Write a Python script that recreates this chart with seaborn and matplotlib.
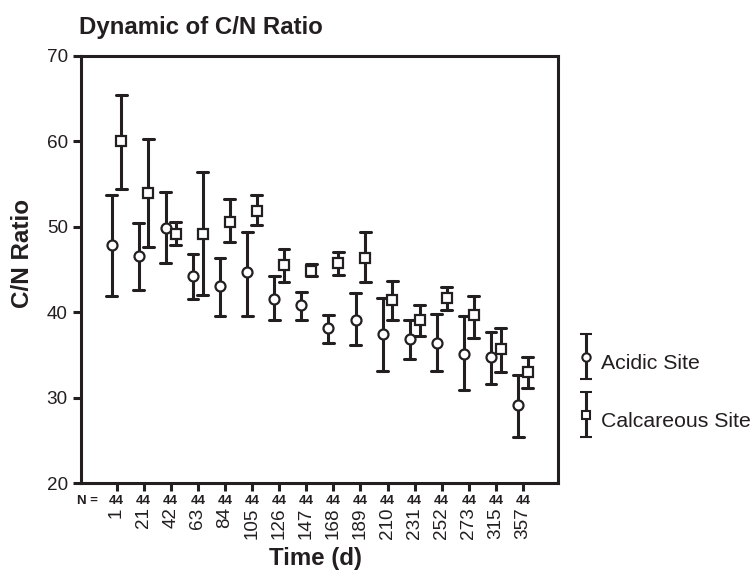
import numpy as np
import pandas as pd
import seaborn as sns
import matplotlib.pyplot as plt
from matplotlib.container import ErrorbarContainer
from matplotlib.legend_handler import HandlerErrorbar

# values (centre and error bar ends)
days = ["1", "21", "42", "63", "84", "105", "126", "147",
        "168", "189", "210", "231", "252", "273", "315", "357"]
n_counts = ["44"] * 16

acidic_mean = [47.9, 46.6, 49.9, 44.2, 43.1, 44.7, 41.6, 40.8,
               38.2, 39.1, 37.4, 36.9, 36.4, 35.1, 34.7, 29.1]
acidic_low = [41.9, 42.6, 45.8, 41.6, 39.6, 39.6, 39.1, 39.1,
              36.4, 36.2, 33.1, 34.5, 33.1, 30.9, 31.6, 25.4]
acidic_high = [53.7, 50.5, 54.1, 46.8, 46.3, 49.4, 44.2, 42.4,
               39.7, 42.2, 41.7, 39.1, 39.8, 39.5, 37.7, 32.7]

calc_mean = [60.1, 53.9, 49.2, 49.2, 50.6, 51.9, 45.5, 44.8,
             45.8, 46.4, 41.4, 39.1, 41.7, 39.7, 35.7, 33.0]
calc_low = [54.4, 47.6, 47.9, 42.0, 48.2, 50.2, 43.5, 44.2,
            44.4, 43.5, 39.1, 37.2, 40.2, 37.0, 33.0, 31.1]
calc_high = [65.4, 60.3, 50.6, 56.4, 53.2, 53.7, 47.4, 45.6,
             47.1, 49.4, 43.7, 40.8, 43.0, 41.9, 38.2, 34.8]

sites = ["Acidic Site", "Calcareous Site"]

# long table: low / centre / high per point, so median = centre and
# the 0-100 percentile interval = the bar ends
rows = []
for site, lo, mid, hi in [(sites[0], acidic_low, acidic_mean, acidic_high),
                          (sites[1], calc_low, calc_mean, calc_high)]:
    for d, a, b, c in zip(days, lo, mid, hi):
        for v in (a, b, c):
            rows.append({"day": d, "site": site, "ratio": v})
df = pd.DataFrame(rows)

ink = "#231f20"
sns.set_theme(style="ticks")
plt.rcParams['font.family'] = ['Liberation Sans', 'DejaVu Sans']

fig = plt.figure(figsize=(7.55, 5.71), dpi=100)
ax = fig.add_axes([81/755, 1-483/571, 477/755, 427/571])

sns.pointplot(data=df, x="day", y="ratio", hue="site", order=days,
              hue_order=sites, estimator="median", errorbar=("pi", 100),
              dodge=0.36, linestyle="none", markers=["o", "s"],
              palette=[ink, ink], capsize=0.4,
              err_kws={"linewidth": 2.2, "zorder": 2, "color": ink},
              markersize=7.2, markerfacecolor="white", markeredgecolor=ink,
              markeredgewidth=1.6, zorder=4, legend=False, ax=ax)

ax.set_xlim(-1.31, 16.29)
ax.set_ylim(20, 70)
ax.set_yticks([20, 30, 40, 50, 60, 70])
ax.set_xlabel("")
ax.set_ylabel("")

for s in ax.spines.values():
    s.set_visible(True)
    s.set_linewidth(2.2)
    s.set_color(ink)
ax.tick_params(axis="both", width=2.2, length=6, color=ink,
               labelcolor=ink, labelsize=13.6)
ax.tick_params(axis="x", labelrotation=90, pad=11.5)
ax.tick_params(axis="y", pad=3.5)

# N = row under the axis
tr = ax.get_xaxis_transform()
ax.text(-1.09, -0.0415, "N =", transform=tr, ha="center", va="center",
        fontsize=9.5, fontweight="bold", color=ink)
for i, n in enumerate(n_counts):
    ax.text(i, -0.0415, n, transform=tr, ha="center", va="center",
            fontsize=9.5, fontweight="bold", color=ink)

fig.text(79/755, 1-34/571, "Dynamic of C/N Ratio", fontsize=17.3,
         fontweight="bold", color=ink, ha="left", va="baseline")
fig.text(23/755, 1-253.5/571, "C/N Ratio", fontsize=17.5, fontweight="bold",
         color=ink, rotation=90, ha="center", va="center")
fig.text(315.5/755, 1-558/571, "Time (d)", fontsize=17.3, fontweight="bold",
         color=ink, ha="center", va="center")

# legend proxies
handles = []
for m in ["o", "s"]:
    h = ax.errorbar([np.nan], [np.nan], yerr=[[1], [1]], fmt=m, ls="none",
                    color=ink, ecolor=ink, elinewidth=2.2, capsize=4,
                    capthick=2.2, markersize=6, markerfacecolor="white",
                    markeredgecolor=ink, markeredgewidth=1.5)
    handles.append(h)
fig.legend(handles, sites, loc="center left",
           bbox_to_anchor=(579.6/755, 1-391.4/571), frameon=False,
           fontsize=15.3, handlelength=0.6, handletextpad=0.4,
           handleheight=2.2, labelspacing=1.05, borderpad=0,
           borderaxespad=0, labelcolor=ink,
           handler_map={ErrorbarContainer: HandlerErrorbar(yerr_size=1.06)})

fig.savefig("out.png", dpi=100)
